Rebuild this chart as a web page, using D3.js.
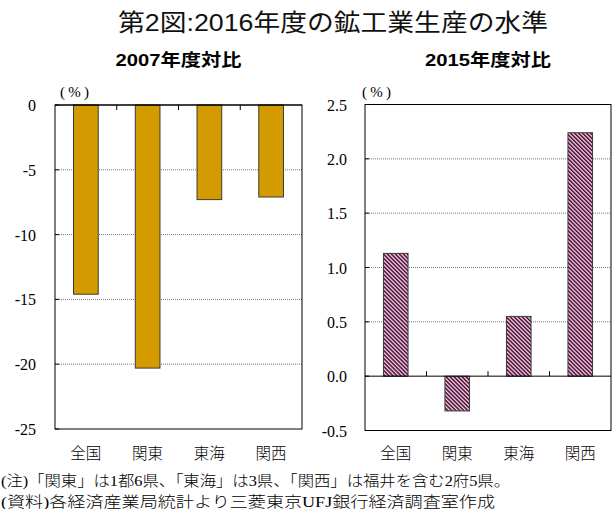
<!DOCTYPE html>
<html><head><meta charset="utf-8">
<script src="https://cdn.jsdelivr.net/npm/d3@7"></script>
<style>body{margin:0;background:#fff}svg{display:block}</style>
</head><body><svg id="c" width="613" height="509"></svg>
<script>
const categories = ["全国","関東","東海","関西"];
const vs2007 = [-14.6,-20.3,-7.3,-7.1];
const vs2015 = [1.13,-0.32,0.55,2.24];
const ticks2007 = [0,-5,-10,-15,-20,-25];
const ticks2015 = [2.5,2.0,1.5,1.0,0.5,0.0,-0.5];
const title = "第2図:2016年度の鉱工業生産の水準";
const sub1 = "2007年度対比", sub2 = "2015年度対比";
const note1 = "(注)「関東」は1都6県、「東海」は3県、「関西」は福井を含む2府5県。";
const note2 = "(資料)各経済産業局統計より三菱東京UFJ銀行経済調査室作成";

const svg = d3.select("#c");
const serif = "'Liberation Serif','Noto Sans CJK JP',serif";
const sans = "'Liberation Sans','Noto Sans CJK JP',sans-serif";
const cjk = "'Liberation Serif','Noto Sans CJK JP',sans-serif";

const defs = svg.append("defs");
const pat = defs.append("pattern").attr("id","hatch").attr("patternUnits","userSpaceOnUse")
  .attr("width",2.83).attr("height",2.83).attr("patternTransform","rotate(-45)");
pat.append("rect").attr("width",2.83).attr("height",2.83).attr("fill","#fff");
pat.append("rect").attr("width",1.7).attr("height",2.83).attr("fill","#5a0c3c");

svg.append("text").attr("x",333).attr("y",31).attr("text-anchor","middle")
  .attr("font-family",sans).attr("font-size",24).attr("fill","#111")
  .attr("textLength",430).attr("lengthAdjust","spacingAndGlyphs").text(title);

function panel(opt){
  const {x0,x1,y0,y1,domain,vals,ticks,fmt,fill,sub,tickLabX,zeroTickDir,pctX} = opt;
  const y = d3.scaleLinear().domain(domain).range([y1,y0]);
  const x = d3.scaleBand().domain(categories).range([x0,x1]).paddingInner(0.6).paddingOuter(0.3);
  const g = svg.append("g");
  g.selectAll("line.grid").data(ticks.filter(t=>t!==domain[0]&&t!==domain[1]&&t!==0)).enter()
    .append("line").attr("x1",x0).attr("x2",x1).attr("y1",d=>y(d)).attr("y2",d=>y(d))
    .attr("stroke","#777").attr("stroke-width",1).attr("stroke-dasharray","1,1");
  g.selectAll("rect.bar").data(vals).enter().append("rect")
    .attr("x",(d,i)=>x(categories[i])).attr("width",x.bandwidth())
    .attr("y",d=>y(Math.max(0,d))).attr("height",d=>Math.abs(y(d)-y(0)))
    .attr("fill",fill).attr("stroke","#3a3a3a").attr("stroke-width",1);
  g.append("rect").attr("x",x0).attr("y",y0).attr("width",x1-x0).attr("height",y1-y0)
    .attr("fill","none").attr("stroke","#000").attr("stroke-width",1);
  g.append("line").attr("x1",x0).attr("x2",x1).attr("y1",y(0)).attr("y2",y(0)).attr("stroke","#000");
  g.selectAll("line.yt").data(ticks).enter().append("line")
    .attr("x1",x0).attr("x2",x0+4).attr("y1",d=>y(d)).attr("y2",d=>y(d)).attr("stroke","#000");
  const step = x.step();
  const bounds = categories.slice(1).map(c=>x(c)-x.paddingInner()*step/2);
  g.selectAll("line.xt").data(bounds).enter().append("line")
    .attr("x1",d=>d).attr("x2",d=>d).attr("y1",y(0)).attr("y2",y(0)+5*zeroTickDir).attr("stroke","#000");
  g.selectAll("text.yl").data(ticks).enter().append("text")
    .attr("x",tickLabX).attr("y",d=>y(d)+6).attr("text-anchor","end")
    .attr("font-family",serif).attr("font-size",16).attr("fill","#000").text(fmt);
  g.selectAll("text.cl").data(categories).enter().append("text")
    .attr("x",d=>x(d)+x.bandwidth()/2).attr("y",459).attr("text-anchor","middle")
    .attr("font-family",cjk).attr("font-size",15.5).attr("font-weight",300).attr("fill","#000").text(d=>d);
  g.append("text").attr("x",pctX).attr("y",97).attr("font-family",serif).attr("font-size",15)
    .attr("textLength",29).attr("lengthAdjust","spacing").text("(%)");
  g.append("text").attr("x",(x0+x1)/2).attr("y",66).attr("text-anchor","middle")
    .attr("font-family",sans).attr("font-weight","bold").attr("font-size",17)
    .attr("textLength",126).attr("lengthAdjust","spacingAndGlyphs").text(sub);
}

panel({x0:55,x1:302,y0:105,y1:429,domain:[-25,0],vals:vs2007,ticks:ticks2007,
  fmt:d=>d3.format("d")(d).replace("−","-"),fill:"#d49b00",sub:sub1,tickLabX:36,zeroTickDir:1,pctX:60});
panel({x0:365,x1:611,y0:104.5,y1:430.5,domain:[-0.5,2.5],vals:vs2015,ticks:ticks2015,
  fmt:d=>d3.format(".1f")(d).replace("−","-"),fill:"url(#hatch)",sub:sub2,tickLabX:347,zeroTickDir:-1,pctX:362});

svg.append("text").attr("x",1).attr("y",486).attr("font-family",cjk).attr("font-size",15)
  .attr("font-weight",300).attr("textLength",509).attr("lengthAdjust","spacingAndGlyphs").text(note1);
svg.append("text").attr("x",1).attr("y",507).attr("font-family",cjk).attr("font-size",15)
  .attr("font-weight",300).attr("textLength",494).attr("lengthAdjust","spacingAndGlyphs").text(note2);
</script></body></html>
